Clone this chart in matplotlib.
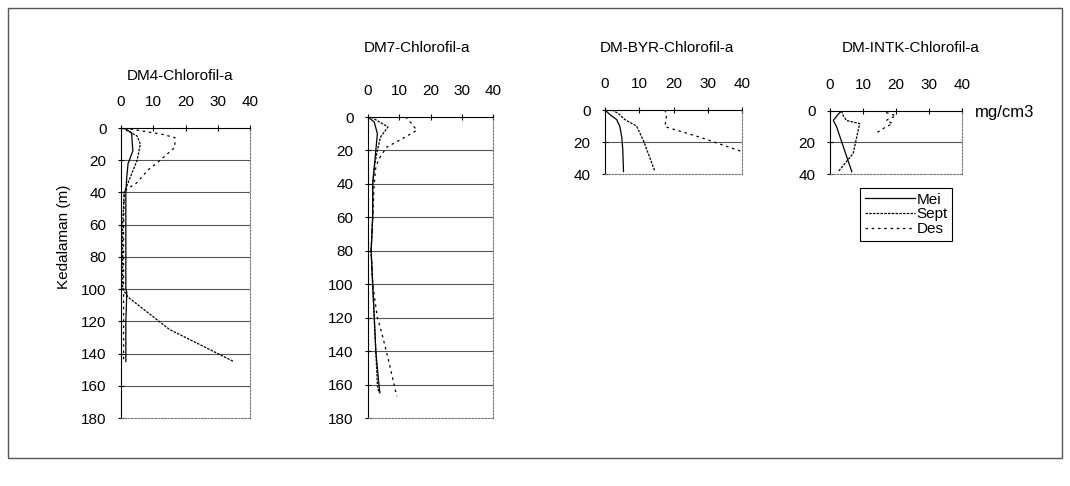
import matplotlib
matplotlib.use("Agg")
import matplotlib.pyplot as plt
from matplotlib.patches import Rectangle

plt.rcParams["font.family"] = ["Liberation Sans", "DejaVu Sans"]

# ----------------------------------------------------------------- data
# depth (m) and chlorophyll-a (mg/cm3) read from the scanned profiles
dm4_mei_depth = [0, 3, 10, 14, 22, 30, 40, 60, 80, 100, 102, 120, 140, 145]
dm4_mei = [1, 3.3, 3.5, 3.7, 2.2, 1.8, 1.5, 1.5, 1.5, 1.5, 1.8, 1.5, 1.5, 1.5]
dm4_sept_depth = [0, 5, 10, 20, 30, 40, 60, 80, 100, 105, 125, 145]
dm4_sept = [0.5, 5, 6, 5, 3, 1, 0.5, 0.5, 0.5, 2.2, 15, 35]
dm4_des_depth = [0, 4, 6, 12, 22, 26, 34, 38, 40, 60, 80, 100, 120, 145]
dm4_des = [1, 13, 16.7, 16.7, 11, 8.4, 4.9, 1.8, 1, 0.8, 0.8, 0.8, 0.8, 0.8]

dm7_mei_depth = [0, 3, 10, 20, 30, 40, 60, 80, 100, 120, 140, 150, 160, 165]
dm7_mei = [0, 2, 3, 2.5, 2, 1.5, 1.5, 1, 1.5, 2, 2.5, 3, 3.5, 3.8]
dm7_sept_depth = [0, 6, 12, 20, 30, 40, 60, 80, 100, 120, 140, 160, 165]
dm7_sept = [1, 6.4, 4, 3, 2, 1.5, 1.5, 1, 1.5, 2, 2.5, 3, 3.5]
dm7_des_depth = [0, 4, 8, 14, 18, 25, 30, 40, 60, 80, 100, 120, 129, 149, 167]
dm7_des = [12, 14, 15.6, 10, 6, 3.5, 2.5, 2, 1.5, 1, 1.5, 3, 4.4, 7, 9.2]

byr_mei_depth = [0, 3, 6, 10, 17, 25, 38.5]
byr_mei = [0, 1.5, 3.4, 4.3, 4.9, 5.2, 5.4]
byr_sept_depth = [0, 2, 6, 10, 19, 38.5]
byr_sept = [2, 3.8, 5.8, 9.2, 11.2, 14.6]
byr_des_depth = [0, 3, 10.4, 17, 26]
byr_des = [17.5, 18, 17.5, 27.7, 40]

intk_mei_depth = [0, 2, 6, 10, 20, 38.5]
intk_mei = [3.5, 2.5, 1, 2, 3.6, 6.6]
intk_sept_depth = [0, 3, 6, 8, 27, 38.5]
intk_sept = [3.5, 4, 5, 9, 7, 2.5]
intk_des_depth = [1, 3, 6, 8, 10, 14]
intk_des = [17, 20, 17, 19, 17, 14]

conc_ticks = [0, 10, 20, 30, 40]
deep_ticks = [0, 20, 40, 60, 80, 100, 120, 140, 160, 180]
shallow_ticks = [0, 20, 40]

months = ["Mei", "Sept", "Des"]
styles = {"Mei": "-", "Sept": (0, (2, 1)), "Des": (0, (2, 3))}

stations = [
    ("DM4-Chlorofil-a", [121, 128, 250, 418], 180, deep_ticks, 76, 180,
     [(dm4_mei_depth, dm4_mei), (dm4_sept_depth, dm4_sept), (dm4_des_depth, dm4_des)]),
    ("DM7-Chlorofil-a", [368, 117, 493, 418], 180, deep_ticks, 48, 417,
     [(dm7_mei_depth, dm7_mei), (dm7_sept_depth, dm7_sept), (dm7_des_depth, dm7_des)]),
    ("DM-BYR-Chlorofil-a", [605, 110, 742, 174], 40, shallow_ticks, 48, 667,
     [(byr_mei_depth, byr_mei), (byr_sept_depth, byr_sept), (byr_des_depth, byr_des)]),
    ("DM-INTK-Chlorofil-a", [830, 111, 962, 174], 40, shallow_ticks, 48, 911,
     [(intk_mei_depth, intk_mei), (intk_sept_depth, intk_sept), (intk_des_depth, intk_des)]),
]

W, H = 1070, 486
fig = plt.figure(figsize=(W / 100, H / 100), dpi=100)

# outer frame of the scanned figure
fig.patches.append(Rectangle((8 / W, 1 - 458 / H), 1054 / W, 450 / H,
                             transform=fig.transFigure, fill=False,
                             edgecolor="#555555", lw=1.0))

handles = []
for title, (x0, y0, x1, y1), dmax, yticks, ty, tx, series in stations:
    ax = fig.add_axes([x0 / W, 1 - y1 / H, (x1 - x0) / W, (y1 - y0) / H])
    for month, (d, v) in zip(months, series):
        ln, = ax.plot(v, d, color="black", lw=0.9, ls=styles[month], label=month)
        if len(handles) < 3:
            handles.append(ln)
    ax.set_xlim(0, 40)
    ax.set_ylim(dmax, 0)
    ax.set_xticks(conc_ticks)
    ax.set_yticks(yticks)
    ax.xaxis.tick_top()
    ax.tick_params(axis="x", direction="inout", length=4, pad=12, labelsize=11)
    ax.tick_params(axis="y", direction="inout", length=5, pad=8, labelsize=11)
    for yv in yticks[1:-1]:
        ax.axhline(yv, color="#555555", lw=0.8, zorder=0)
    ax.spines["top"].set_color("black")
    ax.spines["left"].set_color("black")
    for side in ("right", "bottom"):
        ax.spines[side].set_linestyle((0, (1.5, 1.5)))
        ax.spines[side].set_color("#777777")
    fig.text(tx / W, 1 - ty / H, title, ha="center", va="center", fontsize=11)

fig.text(64 / W, 1 - 237 / H, "Kedalaman (m)", rotation=90,
         ha="center", va="center", fontsize=11)
fig.text(975 / W, 1 - 113 / H, "mg/cm3", ha="left", va="center", fontsize=12)

leg = fig.legend(handles, months, loc="upper left",
                 bbox_to_anchor=(860 / W, 1 - 188 / H), fontsize=11,
                 frameon=True, fancybox=False, framealpha=1,
                 handlelength=3.3, handletextpad=0.1, borderpad=0.3,
                 labelspacing=0.05, borderaxespad=0)
leg.get_frame().set_edgecolor("black")
leg.get_frame().set_linewidth(0.8)

fig.savefig("out.png", dpi=100)
